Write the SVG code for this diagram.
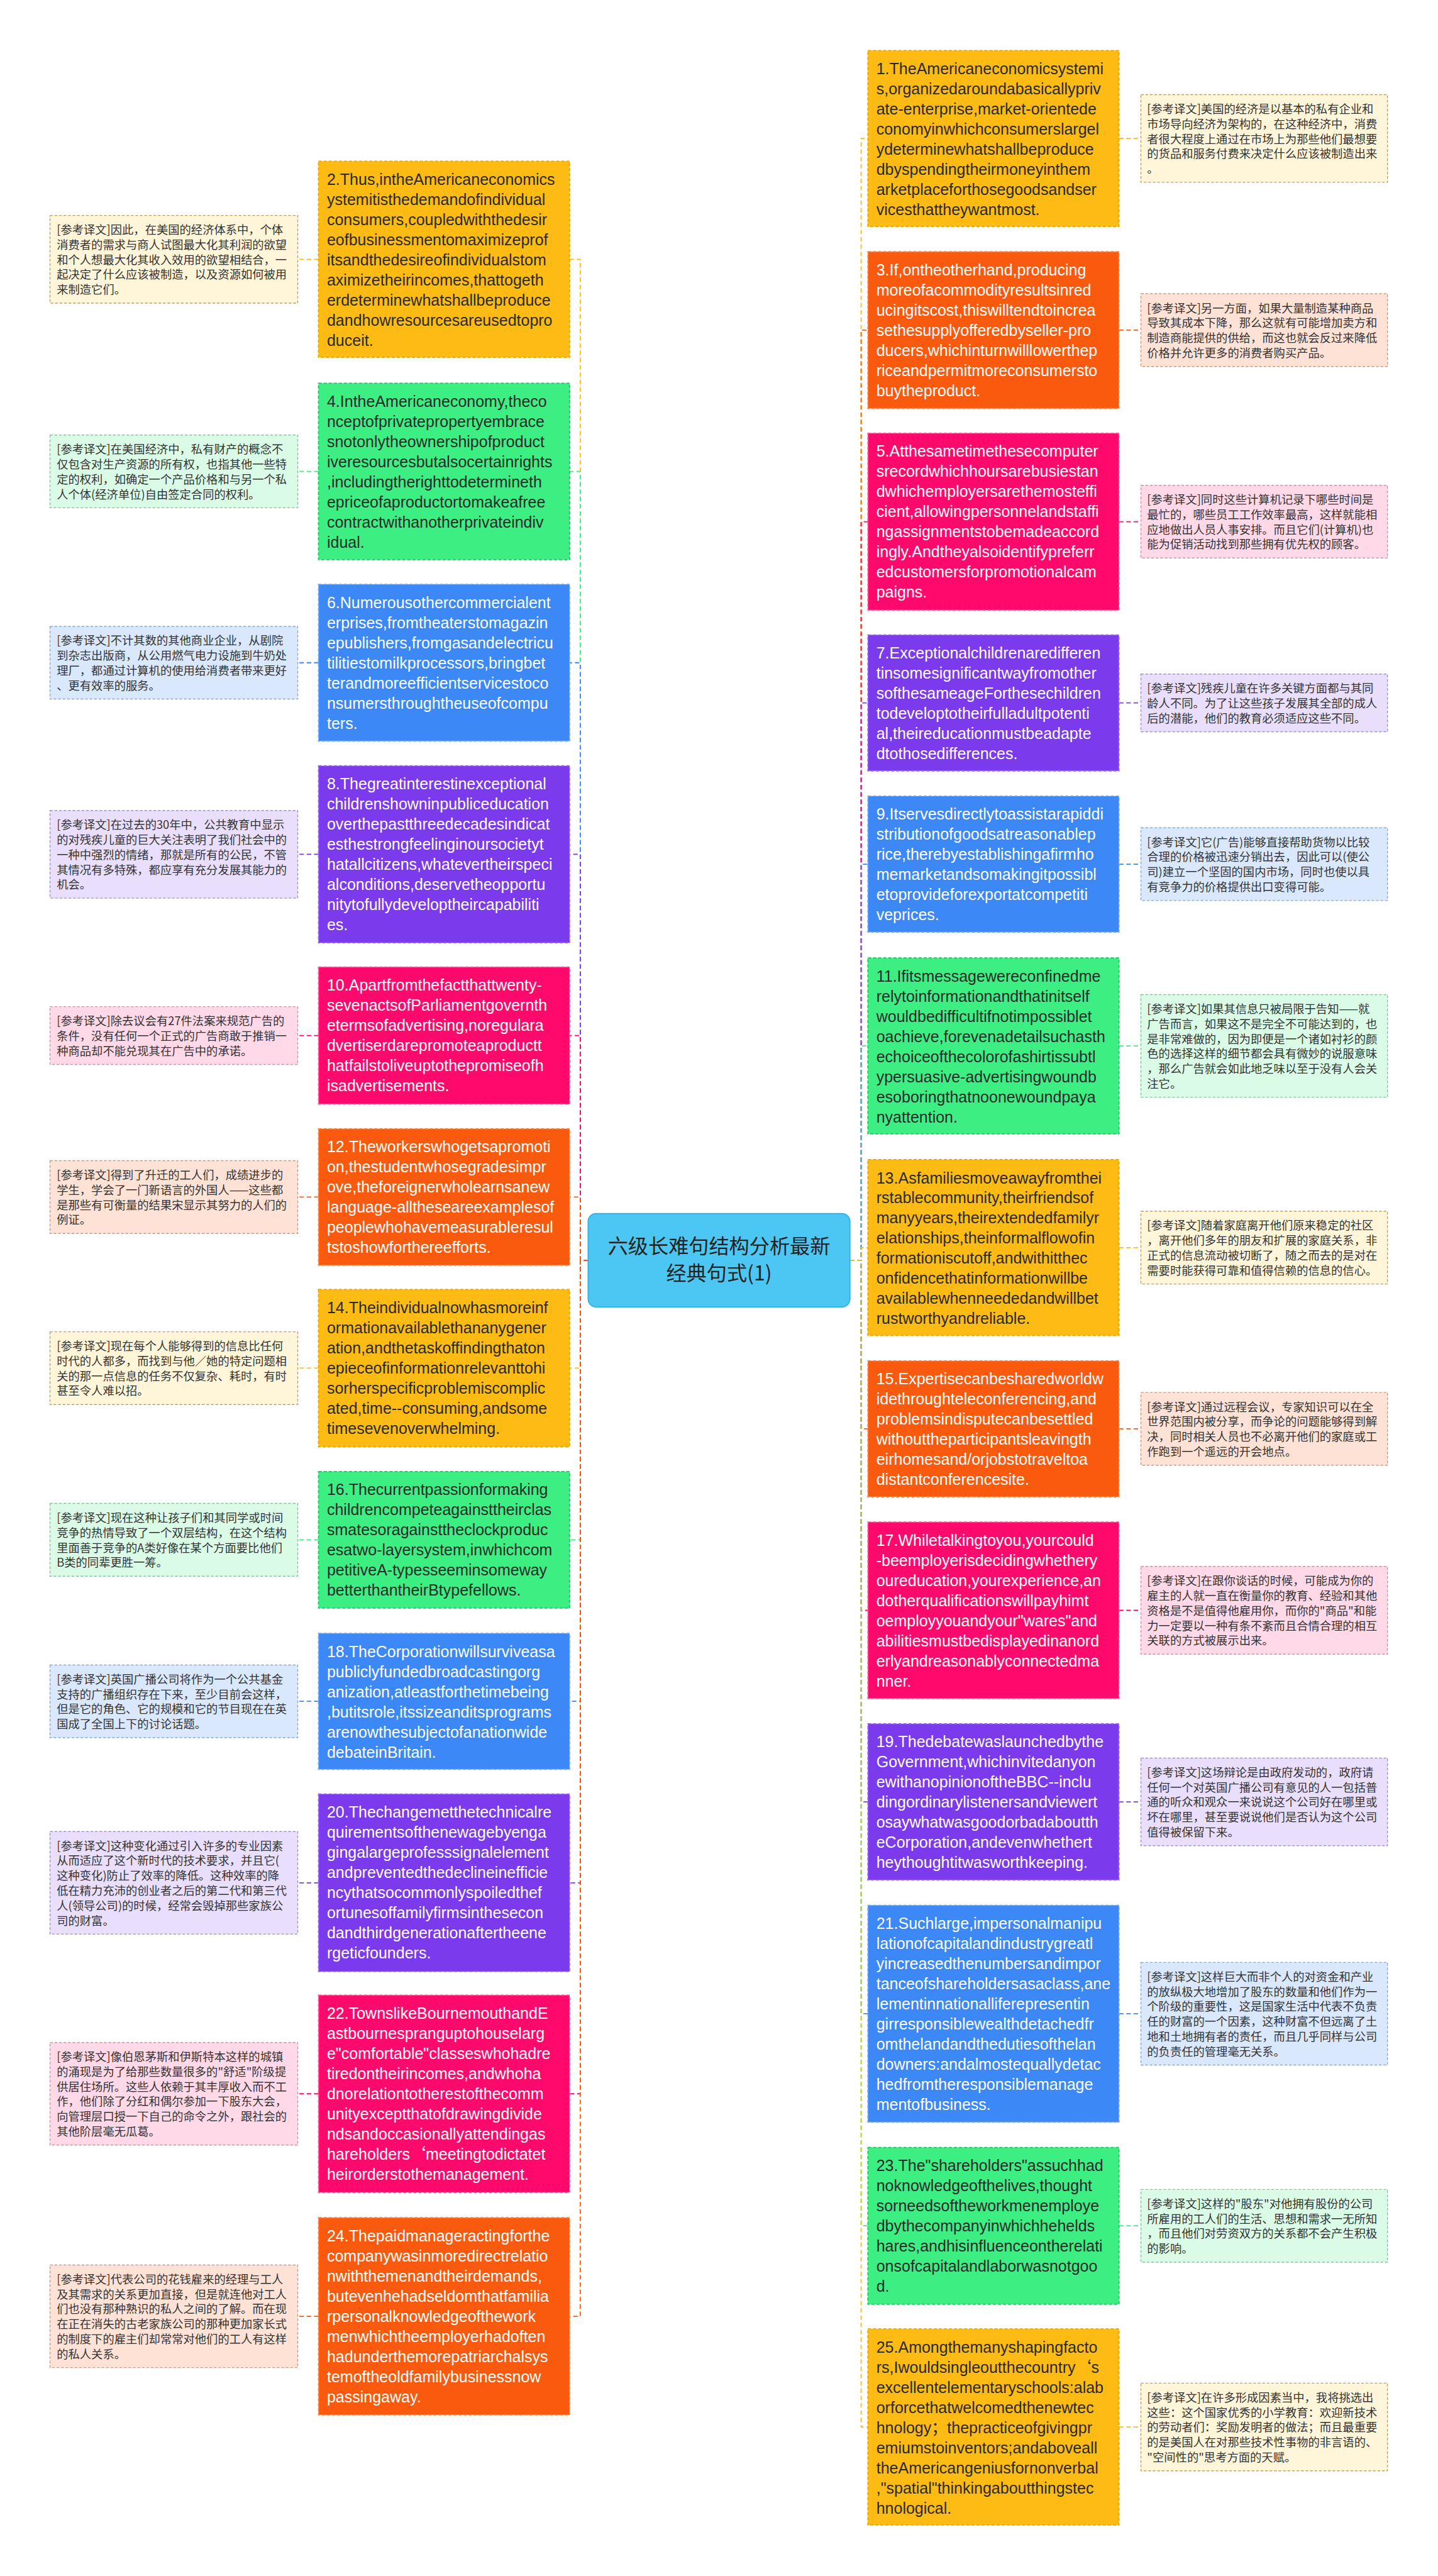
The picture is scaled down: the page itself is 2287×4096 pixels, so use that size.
<svg xmlns="http://www.w3.org/2000/svg" width="2287" height="4096" viewBox="0 0 2287 4096">
<defs>
<style>
.en{font-family:"Liberation Sans",Arial,"Noto Sans CJK SC",sans-serif;font-size:28px}
.zh{font-family:"Noto Sans CJK SC","Noto Sans",sans-serif;font-size:20.5px;fill:#333}
.cj{font-family:"Noto Sans CJK SC",sans-serif}
.dk{fill:#2a2a2a}.wt{fill:#fff}
.nb{stroke-width:2;stroke-dasharray:6 3}
.tb{stroke-width:1.6;stroke-dasharray:5 3}
.Y{fill:#FDBB14;stroke:#E9A600}.G{fill:#3DEF82;stroke:#22C862}.B{fill:#3C88F6;stroke:#6EA6FA}
.P{fill:#7C3AED;stroke:#9B66F2}.K{fill:#FF0A6C;stroke:#FF5A98}.O{fill:#FA5A0E;stroke:#FB8446}
.cY{fill:#FFF6DA;stroke:#B9A46A}.cG{fill:#DAFCE7;stroke:#84C79E}.cB{fill:#DAE8FD;stroke:#8FA9CF}
.cP{fill:#E9DFFC;stroke:#A693C8}.cK{fill:#FFD9E8;stroke:#CF95AB}.cO{fill:#FEE2D5;stroke:#C99E88}
.ln{fill:none;stroke-width:2;stroke-dasharray:8 5}
.lY{stroke:#FDBB14}.lG{stroke:#3DEF82}.lB{stroke:#3C88F6}.lP{stroke:#7C3AED}.lK{stroke:#FF0A6C}.lO{stroke:#FA5A0E}
.ctr{font-family:"Noto Sans CJK SC",sans-serif;font-size:36px;fill:#222}
</style>
</defs>
<rect x="0" y="0" width="2287" height="4096" fill="#ffffff"/>
<g transform="scale(0.8934)">
<g id="connectors">
<path class="ln lY" d="M1047,2243 H1033 V461.5 H1014"/>
<path class="ln lG" d="M1047,2243 H1033 V839 H1014"/>
<path class="ln lB" d="M1047,2243 H1033 V1179.5 H1014"/>
<path class="ln lP" d="M1047,2243 H1033 V1520.5 H1014"/>
<path class="ln lK" d="M1047,2243 H1033 V1843 H1014"/>
<path class="ln lO" d="M1047,2243 H1033 V2130.5 H1014"/>
<path class="ln lY" d="M1047,2243 H1033 V2435 H1014"/>
<path class="ln lG" d="M1047,2243 H1033 V2740.5 H1014"/>
<path class="ln lB" d="M1047,2243 H1033 V3028 H1014"/>
<path class="ln lP" d="M1047,2243 H1033 V3351 H1014"/>
<path class="ln lK" d="M1047,2243 H1033 V3726.5 H1014"/>
<path class="ln lO" d="M1047,2243 H1033 V4122.5 H1014"/>
<path class="ln lY" d="M1513,2243 H1533 V246.5 H1545"/>
<path class="ln lO" d="M1513,2243 H1533 V587.5 H1545"/>
<path class="ln lK" d="M1513,2243 H1533 V928.5 H1545"/>
<path class="ln lP" d="M1513,2243 H1533 V1251 H1545"/>
<path class="ln lB" d="M1513,2243 H1533 V1538 H1545"/>
<path class="ln lG" d="M1513,2243 H1533 V1861.5 H1545"/>
<path class="ln lY" d="M1513,2243 H1533 V2220.5 H1545"/>
<path class="ln lO" d="M1513,2243 H1533 V2543 H1545"/>
<path class="ln lK" d="M1513,2243 H1533 V2866 H1545"/>
<path class="ln lP" d="M1513,2243 H1533 V3207 H1545"/>
<path class="ln lB" d="M1513,2243 H1533 V3584 H1545"/>
<path class="ln lG" d="M1513,2243 H1533 V3961.5 H1545"/>
<path class="ln lY" d="M1513,2243 H1533 V4319.5 H1545"/>
<path class="ln lY" d="M567,461.5 H530"/>
<path class="ln lG" d="M567,839 H530"/>
<path class="ln lB" d="M567,1179.5 H530"/>
<path class="ln lP" d="M567,1520.5 H530"/>
<path class="ln lK" d="M567,1843 H530"/>
<path class="ln lO" d="M567,2130.5 H530"/>
<path class="ln lY" d="M567,2435 H530"/>
<path class="ln lG" d="M567,2740.5 H530"/>
<path class="ln lB" d="M567,3028 H530"/>
<path class="ln lP" d="M567,3351 H530"/>
<path class="ln lK" d="M567,3726.5 H530"/>
<path class="ln lO" d="M567,4122.5 H530"/>
<path class="ln lY" d="M1992,246.5 H2031"/>
<path class="ln lO" d="M1992,587.5 H2031"/>
<path class="ln lK" d="M1992,928.5 H2031"/>
<path class="ln lP" d="M1992,1251 H2031"/>
<path class="ln lB" d="M1992,1538 H2031"/>
<path class="ln lG" d="M1992,1861.5 H2031"/>
<path class="ln lY" d="M1992,2220.5 H2031"/>
<path class="ln lO" d="M1992,2543 H2031"/>
<path class="ln lK" d="M1992,2866 H2031"/>
<path class="ln lP" d="M1992,3207 H2031"/>
<path class="ln lB" d="M1992,3584 H2031"/>
<path class="ln lG" d="M1992,3961.5 H2031"/>
<path class="ln lY" d="M1992,4319.5 H2031"/>
</g>

<g id="center">
<rect x="1047" y="2160" width="466" height="166" rx="14" fill="#4CC7F3" stroke="#2FB3E6" stroke-width="2"/>
<text class="ctr" text-anchor="middle" x="1280" y="2231"><tspan x="1280">六级长难句结构分析最新</tspan><tspan x="1280" dy="48">经典句式(1)</tspan></text>
</g>

<g id="n2"><rect class="Y nb" x="567" y="287" width="447" height="349"/><text class="en dk" x="582" y="329"><tspan x="582">2.Thus,intheAmericaneconomics</tspan><tspan x="582" dy="35.8">ystemitisthedemandofindividual</tspan><tspan x="582" dy="35.8">consumers,coupledwiththedesir</tspan><tspan x="582" dy="35.8">eofbusinessmentomaximizeprof</tspan><tspan x="582" dy="35.8">itsandthedesireofindividualstom</tspan><tspan x="582" dy="35.8">aximizetheirincomes,thattogeth</tspan><tspan x="582" dy="35.8">erdeterminewhatshallbeproduce</tspan><tspan x="582" dy="35.8">dandhowresourcesareusedtopro</tspan><tspan x="582" dy="35.8">duceit.</tspan></text></g>
<g id="t2"><rect class="cY tb" x="89" y="383.5" width="441" height="156"/><text class="zh" x="101" y="416.5"><tspan x="101">[参考译文]因此，在美国的经济体系中，个体</tspan><tspan x="101" dy="26.6">消费者的需求与商人试图最大化其利润的欲望</tspan><tspan x="101" dy="26.6">和个人想最大化其收入效用的欲望相结合，一</tspan><tspan x="101" dy="26.6">起决定了什么应该被制造，以及资源如何被用</tspan><tspan x="101" dy="26.6">来制造它们。</tspan></text></g>

<g id="n4"><rect class="G nb" x="567" y="682" width="447" height="314"/><text class="en dk" x="582" y="724"><tspan x="582">4.IntheAmericaneconomy,theco</tspan><tspan x="582" dy="35.8">nceptofprivatepropertyembrace</tspan><tspan x="582" dy="35.8">snotonlytheownershipofproduct</tspan><tspan x="582" dy="35.8">iveresourcesbutalsocertainrights</tspan><tspan x="582" dy="35.8">,includingtherighttodetermineth</tspan><tspan x="582" dy="35.8">epriceofaproductortomakeafree</tspan><tspan x="582" dy="35.8">contractwithanotherprivateindiv</tspan><tspan x="582" dy="35.8">idual.</tspan></text></g>
<g id="t4"><rect class="cG tb" x="89" y="774.3" width="441" height="129.4"/><text class="zh" x="101" y="807.3"><tspan x="101">[参考译文]在美国经济中，私有财产的概念不</tspan><tspan x="101" dy="26.6">仅包含对生产资源的所有权，也指其他一些特</tspan><tspan x="101" dy="26.6">定的权利，如确定一个产品价格和与另一个私</tspan><tspan x="101" dy="26.6">人个体(经济单位)自由签定合同的权利。</tspan></text></g>

<g id="n6"><rect class="B nb" x="567" y="1040" width="447" height="279"/><text class="en wt" x="582" y="1082"><tspan x="582">6.Numerousothercommercialent</tspan><tspan x="582" dy="35.8">erprises,fromtheaterstomagazin</tspan><tspan x="582" dy="35.8">epublishers,fromgasandelectricu</tspan><tspan x="582" dy="35.8">tilitiestomilkprocessors,bringbet</tspan><tspan x="582" dy="35.8">terandmoreefficientservicestoco</tspan><tspan x="582" dy="35.8">nsumersthroughtheuseofcompu</tspan><tspan x="582" dy="35.8">ters.</tspan></text></g>
<g id="t6"><rect class="cB tb" x="89" y="1114.8" width="441" height="129.4"/><text class="zh" x="101" y="1147.8"><tspan x="101">[参考译文]不计其数的其他商业企业，从剧院</tspan><tspan x="101" dy="26.6">到杂志出版商，从公用燃气电力设施到牛奶处</tspan><tspan x="101" dy="26.6">理厂，都通过计算机的使用给消费者带来更好</tspan><tspan x="101" dy="26.6">、更有效率的服务。</tspan></text></g>

<g id="n8"><rect class="P nb" x="567" y="1363" width="447" height="315"/><text class="en wt" x="582" y="1405"><tspan x="582">8.Thegreatinterestinexceptional</tspan><tspan x="582" dy="35.8">childrenshowninpubliceducation</tspan><tspan x="582" dy="35.8">overthepastthreedecadesindicat</tspan><tspan x="582" dy="35.8">esthestrongfeelinginoursocietyt</tspan><tspan x="582" dy="35.8">hatallcitizens,whatevertheirspeci</tspan><tspan x="582" dy="35.8">alconditions,deservetheopportu</tspan><tspan x="582" dy="35.8">nitytofullydeveloptheircapabiliti</tspan><tspan x="582" dy="35.8">es.</tspan></text></g>
<g id="t8"><rect class="cP tb" x="89" y="1442.5" width="441" height="156"/><text class="zh" x="101" y="1475.5"><tspan x="101">[参考译文]在过去的30年中，公共教育中显示</tspan><tspan x="101" dy="26.6">的对残疾儿童的巨大关注表明了我们社会中的</tspan><tspan x="101" dy="26.6">一种中强烈的情绪，那就是所有的公民，不管</tspan><tspan x="101" dy="26.6">其情况有多特殊，都应享有充分发展其能力的</tspan><tspan x="101" dy="26.6">机会。</tspan></text></g>

<g id="n10"><rect class="K nb" x="567" y="1721" width="447" height="244"/><text class="en wt" x="582" y="1763"><tspan x="582">10.Apartfromthefactthattwenty-</tspan><tspan x="582" dy="35.8">sevenactsofParliamentgovernth</tspan><tspan x="582" dy="35.8">etermsofadvertising,noregulara</tspan><tspan x="582" dy="35.8">dvertiserdarepromoteaproductt</tspan><tspan x="582" dy="35.8">hatfailstoliveuptothepromiseofh</tspan><tspan x="582" dy="35.8">isadvertisements.</tspan></text></g>
<g id="t10"><rect class="cK tb" x="89" y="1791.6" width="441" height="102.8"/><text class="zh" x="101" y="1824.6"><tspan x="101">[参考译文]除去议会有27件法案来规范广告的</tspan><tspan x="101" dy="26.6">条件，没有任何一个正式的广告商敢于推销一</tspan><tspan x="101" dy="26.6">种商品却不能兑现其在广告中的承诺。</tspan></text></g>

<g id="n12"><rect class="O nb" x="567" y="2009" width="447" height="243"/><text class="en wt" x="582" y="2051"><tspan x="582">12.Theworkerswhogetsapromoti</tspan><tspan x="582" dy="35.8">on,thestudentwhosegradesimpr</tspan><tspan x="582" dy="35.8">ove,theforeignerwholearnsanew</tspan><tspan x="582" dy="35.8">language-alltheseareexamplesof</tspan><tspan x="582" dy="35.8">peoplewhohavemeasurableresul</tspan><tspan x="582" dy="35.8">tstoshowforthereefforts.</tspan></text></g>
<g id="t12"><rect class="cO tb" x="89" y="2065.8" width="441" height="129.4"/><text class="zh" x="101" y="2098.8"><tspan x="101">[参考译文]得到了升迁的工人们，成绩进步的</tspan><tspan x="101" dy="26.6">学生，学会了一门新语言的外国人——这些都</tspan><tspan x="101" dy="26.6">是那些有可衡量的结果宋显示其努力的人们的</tspan><tspan x="101" dy="26.6">例证。</tspan></text></g>

<g id="n14"><rect class="Y nb" x="567" y="2295" width="447" height="280"/><text class="en dk" x="582" y="2337"><tspan x="582">14.Theindividualnowhasmoreinf</tspan><tspan x="582" dy="35.8">ormationavailablethananygener</tspan><tspan x="582" dy="35.8">ation,andthetaskoffindingthaton</tspan><tspan x="582" dy="35.8">epieceofinformationrelevanttohi</tspan><tspan x="582" dy="35.8">sorherspecificproblemiscomplic</tspan><tspan x="582" dy="35.8">ated,time--consuming,andsome</tspan><tspan x="582" dy="35.8">timesevenoverwhelming.</tspan></text></g>
<g id="t14"><rect class="cY tb" x="89" y="2370.3" width="441" height="129.4"/><text class="zh" x="101" y="2403.3"><tspan x="101">[参考译文]现在每个人能够得到的信息比任何</tspan><tspan x="101" dy="26.6">时代的人都多，而找到与他／她的特定问题相</tspan><tspan x="101" dy="26.6">关的那一点信息的任务不仅复杂、耗时，有时</tspan><tspan x="101" dy="26.6">甚至令人难以招。</tspan></text></g>

<g id="n16"><rect class="G nb" x="567" y="2619" width="447" height="243"/><text class="en dk" x="582" y="2661"><tspan x="582">16.Thecurrentpassionformaking</tspan><tspan x="582" dy="35.8">childrencompeteagainsttheirclas</tspan><tspan x="582" dy="35.8">smatesoragainsttheclockproduc</tspan><tspan x="582" dy="35.8">esatwo-layersystem,inwhichcom</tspan><tspan x="582" dy="35.8">petitiveA-typesseeminsomeway</tspan><tspan x="582" dy="35.8">betterthantheirBtypefellows.</tspan></text></g>
<g id="t16"><rect class="cG tb" x="89" y="2675.8" width="441" height="129.4"/><text class="zh" x="101" y="2708.8"><tspan x="101">[参考译文]现在这种让孩子们和其同学或时间</tspan><tspan x="101" dy="26.6">竞争的热情导致了一个双层结构，在这个结构</tspan><tspan x="101" dy="26.6">里面善于竞争的A类好像在某个方面要比他们</tspan><tspan x="101" dy="26.6">B类的同辈更胜一筹。</tspan></text></g>

<g id="n18"><rect class="B nb" x="567" y="2907" width="447" height="242"/><text class="en wt" x="582" y="2949"><tspan x="582">18.TheCorporationwillsurviveasa</tspan><tspan x="582" dy="35.8">publiclyfundedbroadcastingorg</tspan><tspan x="582" dy="35.8">anization,atleastforthetimebeing</tspan><tspan x="582" dy="35.8">,butitsrole,itssizeanditsprograms</tspan><tspan x="582" dy="35.8">arenowthesubjectofanationwide</tspan><tspan x="582" dy="35.8">debateinBritain.</tspan></text></g>
<g id="t18"><rect class="cB tb" x="89" y="2963.3" width="441" height="129.4"/><text class="zh" x="101" y="2996.3"><tspan x="101">[参考译文]英国广播公司将作为一个公共基金</tspan><tspan x="101" dy="26.6">支持的广播组织存在下来，至少目前会这样，</tspan><tspan x="101" dy="26.6">但是它的角色、它的规模和它的节目现在在英</tspan><tspan x="101" dy="26.6">国成了全国上下的讨论话题。</tspan></text></g>

<g id="n20"><rect class="P nb" x="567" y="3193" width="447" height="316"/><text class="en wt" x="582" y="3235"><tspan x="582">20.Thechangemetthetechnicalre</tspan><tspan x="582" dy="35.8">quirementsofthenewagebyenga</tspan><tspan x="582" dy="35.8">gingalargeprofesssignalelement</tspan><tspan x="582" dy="35.8">andpreventedthedeclineinefficie</tspan><tspan x="582" dy="35.8">ncythatsocommonlyspoiledthef</tspan><tspan x="582" dy="35.8">ortunesoffamilyfirmsinthesecon</tspan><tspan x="582" dy="35.8">dandthirdgenerationaftertheene</tspan><tspan x="582" dy="35.8">rgeticfounders.</tspan></text></g>
<g id="t20"><rect class="cP tb" x="89" y="3259.7" width="441" height="182.6"/><text class="zh" x="101" y="3292.7"><tspan x="101">[参考译文]这种变化通过引入许多的专业因素</tspan><tspan x="101" dy="26.6">从而适应了这个新时代的技术要求，并且它(</tspan><tspan x="101" dy="26.6">这种变化)防止了效率的降低。这种效率的降</tspan><tspan x="101" dy="26.6">低在精力充沛的创业者之后的第二代和第三代</tspan><tspan x="101" dy="26.6">人(领导公司)的时候，经常会毁掉那些家族公</tspan><tspan x="101" dy="26.6">司的财富。</tspan></text></g>

<g id="n22"><rect class="K nb" x="567" y="3551" width="447" height="351"/><text class="en wt" x="582" y="3593"><tspan x="582">22.TownslikeBournemouthandE</tspan><tspan x="582" dy="35.8">astbournespranguptohouselarg</tspan><tspan x="582" dy="35.8">e"comfortable"classeswhohadre</tspan><tspan x="582" dy="35.8">tiredontheirincomes,andwhoha</tspan><tspan x="582" dy="35.8">dnorelationtotherestofthecomm</tspan><tspan x="582" dy="35.8">unityexceptthatofdrawingdivide</tspan><tspan x="582" dy="35.8">ndsandoccasionallyattendingas</tspan><tspan x="582" dy="35.8">hareholders<tspan class="cj">‘</tspan>meetingtodictatet</tspan><tspan x="582" dy="35.8">heirorderstothemanagement.</tspan></text></g>
<g id="t22"><rect class="cK tb" x="89" y="3635.2" width="441" height="182.6"/><text class="zh" x="101" y="3668.2"><tspan x="101">[参考译文]像伯恩茅斯和伊斯特本这样的城镇</tspan><tspan x="101" dy="26.6">的涌现是为了给那些数量很多的"舒适"阶级提</tspan><tspan x="101" dy="26.6">供居住场所。这些人依赖于其丰厚收入而不工</tspan><tspan x="101" dy="26.6">作，他们除了分红和偶尔参加一下股东大会，</tspan><tspan x="101" dy="26.6">向管理层口授一下自己的命令之外，跟社会的</tspan><tspan x="101" dy="26.6">其他阶层毫无瓜葛。</tspan></text></g>

<g id="n24"><rect class="O nb" x="567" y="3947" width="447" height="351"/><text class="en wt" x="582" y="3989"><tspan x="582">24.Thepaidmanageractingforthe</tspan><tspan x="582" dy="35.8">companywasinmoredirectrelatio</tspan><tspan x="582" dy="35.8">nwiththemenandtheirdemands,</tspan><tspan x="582" dy="35.8">butevenhehadseldomthatfamilia</tspan><tspan x="582" dy="35.8">rpersonalknowledgeofthework</tspan><tspan x="582" dy="35.8">menwhichtheemployerhadoften</tspan><tspan x="582" dy="35.8">hadunderthemorepatriarchalsys</tspan><tspan x="582" dy="35.8">temoftheoldfamilybusinessnow</tspan><tspan x="582" dy="35.8">passingaway.</tspan></text></g>
<g id="t24"><rect class="cO tb" x="89" y="4031.2" width="441" height="182.6"/><text class="zh" x="101" y="4064.2"><tspan x="101">[参考译文]代表公司的花钱雇来的经理与工人</tspan><tspan x="101" dy="26.6">及其需求的关系更加直接，但是就连他对工人</tspan><tspan x="101" dy="26.6">们也没有那种熟识的私人之间的了解。而在现</tspan><tspan x="101" dy="26.6">在正在消失的古老家族公司的那种更加家长式</tspan><tspan x="101" dy="26.6">的制度下的雇主们却常常对他们的工人有这样</tspan><tspan x="101" dy="26.6">的私人关系。</tspan></text></g>

<g id="n1"><rect class="Y nb" x="1545" y="90" width="447" height="313"/><text class="en dk" x="1560" y="132"><tspan x="1560">1.TheAmericaneconomicsystemi</tspan><tspan x="1560" dy="35.8">s,organizedaroundabasicallypriv</tspan><tspan x="1560" dy="35.8">ate-enterprise,market-orientede</tspan><tspan x="1560" dy="35.8">conomyinwhichconsumerslargel</tspan><tspan x="1560" dy="35.8">ydeterminewhatshallbeproduce</tspan><tspan x="1560" dy="35.8">dbyspendingtheirmoneyinthem</tspan><tspan x="1560" dy="35.8">arketplaceforthosegoodsandser</tspan><tspan x="1560" dy="35.8">vicesthattheywantmost.</tspan></text></g>
<g id="t1"><rect class="cY tb" x="2031" y="168.5" width="439" height="156"/><text class="zh" x="2042" y="201.5"><tspan x="2042">[参考译文]美国的经济是以基本的私有企业和</tspan><tspan x="2042" dy="26.6">市场导向经济为架构的，在这种经济中，消费</tspan><tspan x="2042" dy="26.6">者很大程度上通过在市场上为那些他们最想要</tspan><tspan x="2042" dy="26.6">的货品和服务付费来决定什么应该被制造出来</tspan><tspan x="2042" dy="26.6">。</tspan></text></g>

<g id="n3"><rect class="O nb" x="1545" y="448" width="447" height="279"/><text class="en wt" x="1560" y="490"><tspan x="1560">3.If,ontheotherhand,producing</tspan><tspan x="1560" dy="35.8">moreofacommodityresultsinred</tspan><tspan x="1560" dy="35.8">ucingitscost,thiswilltendtoincrea</tspan><tspan x="1560" dy="35.8">sethesupplyofferedbyseller-pro</tspan><tspan x="1560" dy="35.8">ducers,whichinturnwilllowerthep</tspan><tspan x="1560" dy="35.8">riceandpermitmoreconsumersto</tspan><tspan x="1560" dy="35.8">buytheproduct.</tspan></text></g>
<g id="t3"><rect class="cO tb" x="2031" y="522.8" width="439" height="129.4"/><text class="zh" x="2042" y="555.8"><tspan x="2042">[参考译文]另一方面，如果大量制造某种商品</tspan><tspan x="2042" dy="26.6">导致其成本下降，那么这就有可能增加卖方和</tspan><tspan x="2042" dy="26.6">制造商能提供的供给，而这也就会反过来降低</tspan><tspan x="2042" dy="26.6">价格并允许更多的消费者购买产品。</tspan></text></g>

<g id="n5"><rect class="K nb" x="1545" y="771" width="447" height="315"/><text class="en wt" x="1560" y="813"><tspan x="1560">5.Atthesametimethesecomputer</tspan><tspan x="1560" dy="35.8">srecordwhichhoursarebusiestan</tspan><tspan x="1560" dy="35.8">dwhichemployersarethemosteffi</tspan><tspan x="1560" dy="35.8">cient,allowingpersonnelandstaffi</tspan><tspan x="1560" dy="35.8">ngassignmentstobemadeaccord</tspan><tspan x="1560" dy="35.8">ingly.Andtheyalsoidentifypreferr</tspan><tspan x="1560" dy="35.8">edcustomersforpromotionalcam</tspan><tspan x="1560" dy="35.8">paigns.</tspan></text></g>
<g id="t5"><rect class="cK tb" x="2031" y="863.8" width="439" height="129.4"/><text class="zh" x="2042" y="896.8"><tspan x="2042">[参考译文]同时这些计算机记录下哪些时间是</tspan><tspan x="2042" dy="26.6">最忙的，哪些员工工作效率最高，这样就能相</tspan><tspan x="2042" dy="26.6">应地做出人员人事安排。而且它们(计算机)也</tspan><tspan x="2042" dy="26.6">能为促销活动找到那些拥有优先权的顾客。</tspan></text></g>

<g id="n7"><rect class="P nb" x="1545" y="1130" width="447" height="242"/><text class="en wt" x="1560" y="1172"><tspan x="1560">7.Exceptionalchildrenaredifferen</tspan><tspan x="1560" dy="35.8">tinsomesignificantwayfromother</tspan><tspan x="1560" dy="35.8">softhesameageForthesechildren</tspan><tspan x="1560" dy="35.8">todeveloptotheirfulladultpotenti</tspan><tspan x="1560" dy="35.8">al,theireducationmustbeadapte</tspan><tspan x="1560" dy="35.8">dtothosedifferences.</tspan></text></g>
<g id="t7"><rect class="cP tb" x="2031" y="1199.6" width="439" height="102.8"/><text class="zh" x="2042" y="1232.6"><tspan x="2042">[参考译文]残疾儿童在许多关键方面都与其同</tspan><tspan x="2042" dy="26.6">龄人不同。为了让这些孩子发展其全部的成人</tspan><tspan x="2042" dy="26.6">后的潜能，他们的教育必须适应这些不同。</tspan></text></g>

<g id="n9"><rect class="B nb" x="1545" y="1417" width="447" height="242"/><text class="en wt" x="1560" y="1459"><tspan x="1560">9.Itservesdirectlytoassistarapiddi</tspan><tspan x="1560" dy="35.8">stributionofgoodsatreasonablep</tspan><tspan x="1560" dy="35.8">rice,therebyestablishingafirmho</tspan><tspan x="1560" dy="35.8">memarketandsomakingitpossibl</tspan><tspan x="1560" dy="35.8">etoprovideforexportatcompetiti</tspan><tspan x="1560" dy="35.8">veprices.</tspan></text></g>
<g id="t9"><rect class="cB tb" x="2031" y="1473.3" width="439" height="129.4"/><text class="zh" x="2042" y="1506.3"><tspan x="2042">[参考译文]它(广告)能够直接帮助货物以比较</tspan><tspan x="2042" dy="26.6">合理的价格被迅速分销出去，因此可以(使公</tspan><tspan x="2042" dy="26.6">司)建立一个坚固的国内市场，同时也使以具</tspan><tspan x="2042" dy="26.6">有竞争力的价格提供出口变得可能。</tspan></text></g>

<g id="n11"><rect class="G nb" x="1545" y="1705" width="447" height="313"/><text class="en dk" x="1560" y="1747"><tspan x="1560">11.Ifitsmessagewereconfinedme</tspan><tspan x="1560" dy="35.8">relytoinformationandthatinitself</tspan><tspan x="1560" dy="35.8">wouldbedifficultifnotimpossiblet</tspan><tspan x="1560" dy="35.8">oachieve,forevenadetailsuchasth</tspan><tspan x="1560" dy="35.8">echoiceofthecolorofashirtissubtl</tspan><tspan x="1560" dy="35.8">ypersuasive-advertisingwoundb</tspan><tspan x="1560" dy="35.8">esoboringthatnoonewoundpaya</tspan><tspan x="1560" dy="35.8">nyattention.</tspan></text></g>
<g id="t11"><rect class="cG tb" x="2031" y="1770.2" width="439" height="182.6"/><text class="zh" x="2042" y="1803.2"><tspan x="2042">[参考译文]如果其信息只被局限于告知——就</tspan><tspan x="2042" dy="26.6">广告而言，如果这不是完全不可能达到的，也</tspan><tspan x="2042" dy="26.6">是非常难做的，因为即便是一个诸如衬衫的颜</tspan><tspan x="2042" dy="26.6">色的选择这样的细节都会具有微妙的说服意味</tspan><tspan x="2042" dy="26.6">，那么广告就会如此地乏味以至于没有人会关</tspan><tspan x="2042" dy="26.6">注它。</tspan></text></g>

<g id="n13"><rect class="Y nb" x="1545" y="2064" width="447" height="313"/><text class="en dk" x="1560" y="2106"><tspan x="1560">13.Asfamiliesmoveawayfromthei</tspan><tspan x="1560" dy="35.8">rstablecommunity,theirfriendsof</tspan><tspan x="1560" dy="35.8">manyyears,theirextendedfamilyr</tspan><tspan x="1560" dy="35.8">elationships,theinformalflowofin</tspan><tspan x="1560" dy="35.8">formationiscutoff,andwithitthec</tspan><tspan x="1560" dy="35.8">onfidencethatinformationwillbe</tspan><tspan x="1560" dy="35.8">availablewhenneededandwillbet</tspan><tspan x="1560" dy="35.8">rustworthyandreliable.</tspan></text></g>
<g id="t13"><rect class="cY tb" x="2031" y="2155.8" width="439" height="129.4"/><text class="zh" x="2042" y="2188.8"><tspan x="2042">[参考译文]随着家庭离开他们原来稳定的社区</tspan><tspan x="2042" dy="26.6">，离开他们多年的朋友和扩展的家庭关系，非</tspan><tspan x="2042" dy="26.6">正式的信息流动被切断了，随之而去的是对在</tspan><tspan x="2042" dy="26.6">需要时能获得可靠和值得信赖的信息的信心。</tspan></text></g>

<g id="n15"><rect class="O nb" x="1545" y="2422" width="447" height="242"/><text class="en wt" x="1560" y="2464"><tspan x="1560">15.Expertisecanbesharedworldw</tspan><tspan x="1560" dy="35.8">idethroughteleconferencing,and</tspan><tspan x="1560" dy="35.8">problemsindisputecanbesettled</tspan><tspan x="1560" dy="35.8">withouttheparticipantsleavingth</tspan><tspan x="1560" dy="35.8">eirhomesand/orjobstotraveltoa</tspan><tspan x="1560" dy="35.8">distantconferencesite.</tspan></text></g>
<g id="t15"><rect class="cO tb" x="2031" y="2478.3" width="439" height="129.4"/><text class="zh" x="2042" y="2511.3"><tspan x="2042">[参考译文]通过远程会议，专家知识可以在全</tspan><tspan x="2042" dy="26.6">世界范围内被分享，而争论的问题能够得到解</tspan><tspan x="2042" dy="26.6">决，同时相关人员也不必离开他们的家庭或工</tspan><tspan x="2042" dy="26.6">作跑到一个遥远的开会地点。</tspan></text></g>

<g id="n17"><rect class="K nb" x="1545" y="2709" width="447" height="314"/><text class="en wt" x="1560" y="2751"><tspan x="1560">17.Whiletalkingtoyou,yourcould</tspan><tspan x="1560" dy="35.8">-beemployerisdecidingwhethery</tspan><tspan x="1560" dy="35.8">oureducation,yourexperience,an</tspan><tspan x="1560" dy="35.8">dotherqualificationswillpayhimt</tspan><tspan x="1560" dy="35.8">oemployyouandyour"wares"and</tspan><tspan x="1560" dy="35.8">abilitiesmustbedisplayedinanord</tspan><tspan x="1560" dy="35.8">erlyandreasonablyconnectedma</tspan><tspan x="1560" dy="35.8">nner.</tspan></text></g>
<g id="t17"><rect class="cK tb" x="2031" y="2788" width="439" height="156"/><text class="zh" x="2042" y="2821"><tspan x="2042">[参考译文]在跟你谈话的时候，可能成为你的</tspan><tspan x="2042" dy="26.6">雇主的人就一直在衡量你的教育、经验和其他</tspan><tspan x="2042" dy="26.6">资格是不是值得他雇用你，而你的"商品"和能</tspan><tspan x="2042" dy="26.6">力一定要以一种有条不紊而且合情合理的相互</tspan><tspan x="2042" dy="26.6">关联的方式被展示出来。</tspan></text></g>

<g id="n19"><rect class="P nb" x="1545" y="3068" width="447" height="278"/><text class="en wt" x="1560" y="3110"><tspan x="1560">19.Thedebatewaslaunchedbythe</tspan><tspan x="1560" dy="35.8">Government,whichinvitedanyon</tspan><tspan x="1560" dy="35.8">ewithanopinionoftheBBC--inclu</tspan><tspan x="1560" dy="35.8">dingordinarylistenersandviewert</tspan><tspan x="1560" dy="35.8">osaywhatwasgoodorbadaboutth</tspan><tspan x="1560" dy="35.8">eCorporation,andevenwhethert</tspan><tspan x="1560" dy="35.8">heythoughtitwasworthkeeping.</tspan></text></g>
<g id="t19"><rect class="cP tb" x="2031" y="3129" width="439" height="156"/><text class="zh" x="2042" y="3162"><tspan x="2042">[参考译文]这场辩论是由政府发动的，政府请</tspan><tspan x="2042" dy="26.6">任何一个对英国广播公司有意见的人一包括普</tspan><tspan x="2042" dy="26.6">通的听众和观众一来说说这个公司好在哪里或</tspan><tspan x="2042" dy="26.6">坏在哪里，甚至要说说他们是否认为这个公司</tspan><tspan x="2042" dy="26.6">值得被保留下来。</tspan></text></g>

<g id="n21"><rect class="B nb" x="1545" y="3391" width="447" height="386"/><text class="en wt" x="1560" y="3433"><tspan x="1560">21.Suchlarge,impersonalmanipu</tspan><tspan x="1560" dy="35.8">lationofcapitalandindustrygreatl</tspan><tspan x="1560" dy="35.8">yincreasedthenumbersandimpor</tspan><tspan x="1560" dy="35.8">tanceofshareholdersasaclass,ane</tspan><tspan x="1560" dy="35.8">lementinnationalliferepresentin</tspan><tspan x="1560" dy="35.8">girresponsiblewealthdetachedfr</tspan><tspan x="1560" dy="35.8">omthelandandthedutiesofthelan</tspan><tspan x="1560" dy="35.8">downers:andalmostequallydetac</tspan><tspan x="1560" dy="35.8">hedfromtheresponsiblemanage</tspan><tspan x="1560" dy="35.8">mentofbusiness.</tspan></text></g>
<g id="t21"><rect class="cB tb" x="2031" y="3492.7" width="439" height="182.6"/><text class="zh" x="2042" y="3525.7"><tspan x="2042">[参考译文]这样巨大而非个人的对资金和产业</tspan><tspan x="2042" dy="26.6">的放纵极大地增加了股东的数量和他们作为一</tspan><tspan x="2042" dy="26.6">个阶级的重要性，这是国家生活中代表不负责</tspan><tspan x="2042" dy="26.6">任的财富的一个因素，这种财富不但远离了土</tspan><tspan x="2042" dy="26.6">地和土地拥有者的责任，而且几乎同样与公司</tspan><tspan x="2042" dy="26.6">的负责任的管理毫无关系。</tspan></text></g>

<g id="n23"><rect class="G nb" x="1545" y="3822" width="447" height="279"/><text class="en dk" x="1560" y="3864"><tspan x="1560">23.The"shareholders"assuchhad</tspan><tspan x="1560" dy="35.8">noknowledgeofthelives,thought</tspan><tspan x="1560" dy="35.8">sorneedsoftheworkmenemploye</tspan><tspan x="1560" dy="35.8">dbythecompanyinwhichhehelds</tspan><tspan x="1560" dy="35.8">hares,andhisinfluenceontherelati</tspan><tspan x="1560" dy="35.8">onsofcapitalandlaborwasnotgoo</tspan><tspan x="1560" dy="35.8">d.</tspan></text></g>
<g id="t23"><rect class="cG tb" x="2031" y="3896.8" width="439" height="129.4"/><text class="zh" x="2042" y="3929.8"><tspan x="2042">[参考译文]这样的"股东"对他拥有股份的公司</tspan><tspan x="2042" dy="26.6">所雇用的工人们的生活、思想和需求一无所知</tspan><tspan x="2042" dy="26.6">，而且他们对劳资双方的关系都不会产生积极</tspan><tspan x="2042" dy="26.6">的影响。</tspan></text></g>

<g id="n25"><rect class="Y nb" x="1545" y="4145" width="447" height="349"/><text class="en dk" x="1560" y="4187"><tspan x="1560">25.Amongthemanyshapingfacto</tspan><tspan x="1560" dy="35.8">rs,Iwouldsingleoutthecountry<tspan class="cj">‘</tspan>s</tspan><tspan x="1560" dy="35.8">excellentelementaryschools:alab</tspan><tspan x="1560" dy="35.8">orforcethatwelcomedthenewtec</tspan><tspan x="1560" dy="35.8">hnology；thepracticeofgivingpr</tspan><tspan x="1560" dy="35.8">emiumstoinventors;andaboveall</tspan><tspan x="1560" dy="35.8">theAmericangeniusfornonverbal</tspan><tspan x="1560" dy="35.8">,"spatial"thinkingaboutthingstec</tspan><tspan x="1560" dy="35.8">hnological.</tspan></text></g>
<g id="t25"><rect class="cY tb" x="2031" y="4241.5" width="439" height="156"/><text class="zh" x="2042" y="4274.5"><tspan x="2042">[参考译文]在许多形成因素当中，我将挑选出</tspan><tspan x="2042" dy="26.6">这些：这个国家优秀的小学教育：欢迎新技术</tspan><tspan x="2042" dy="26.6">的劳动者们：奖励发明者的做法；而且最重要</tspan><tspan x="2042" dy="26.6">的是美国人在对那些技术性事物的非言语的、</tspan><tspan x="2042" dy="26.6">"空间性的"思考方面的天赋。</tspan></text></g>
</g>
</svg>
